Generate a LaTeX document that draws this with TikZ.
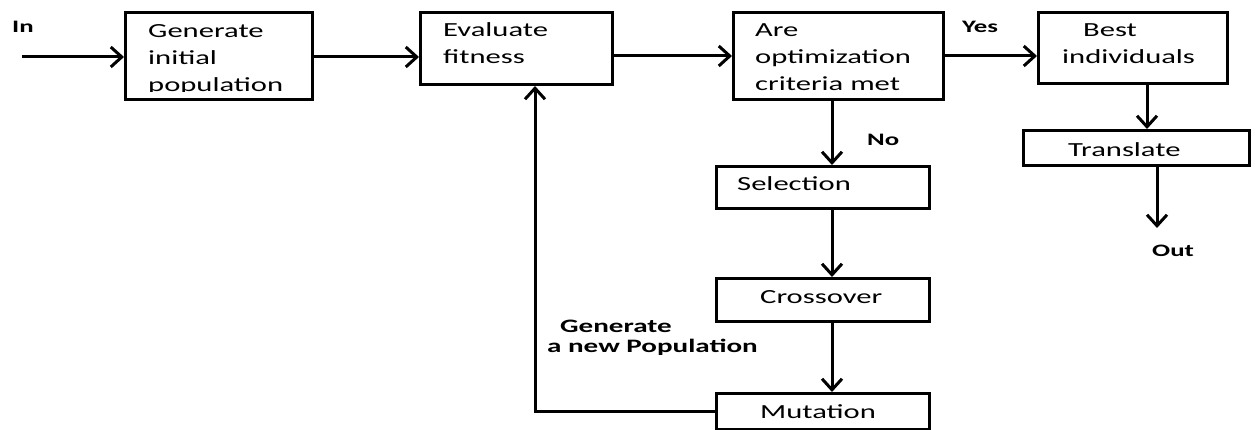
\documentclass[tikz,border=0pt]{standalone}
\usepackage{fontspec}
\setmainfont[FakeStretch=1.53]{Carlito}
\usetikzlibrary{arrows.meta}
\begin{document}
\begin{tikzpicture}[x=1pt,y=-1pt,
  box/.style={draw=black, line width=3pt, rectangle, inner sep=0pt, anchor=north west},
  txt/.style={inner sep=0pt, align=left, font=\fontsize{20}{27}\selectfont, text=black},
  lbl/.style={inner sep=0pt, font=\fontsize{17.5}{20}\selectfont\bfseries, text=black, anchor=base west},
  arr/.style={line width=3pt, -{Straight Barb[length=11pt,width=20pt,line width=3pt]}}]
\useasboundingbox (0,0) rectangle (1258,430);

% process boxes
\node[box, minimum width=187pt, minimum height=87pt] (gen)   at (124,11)  {};
\node[box, minimum width=192pt, minimum height=72pt] (eval)  at (419,11)  {};
\node[box, minimum width=210pt, minimum height=87pt] (crit)  at (732,11)  {};
\node[box, minimum width=189pt, minimum height=71pt] (best)  at (1037,11) {};
\node[box, minimum width=226pt, minimum height=35pt] (trans) at (1022,129) {};
\node[box, minimum width=213pt, minimum height=42pt] (sel)   at (715,165) {};
\node[box, minimum width=213pt, minimum height=43pt] (cross) at (715,277) {};
\node[box, minimum width=213pt, minimum height=36pt] (mut)   at (715,392) {};

% box texts
\begin{scope}
  \clip (126,13) rectangle (309,92);
  \node[txt, anchor=north west] (gent) at (148,18.1) {\strut Generate\\initial\\population};
\end{scope}
\node[txt, anchor=north west] (evalt)  at (443,17.1)  {\strut Evaluate\\fitness};
\node[txt, anchor=north west] (critt)  at (755,17.1)  {\strut Are\\optimization\\criteria met};
\node[txt, anchor=north west] (bestt)  at (1062,17.1) {\strut\hspace*{21pt}Best\\individuals};
\node[txt, anchor=base west]  (transt) at (1068,157)  {Translate};
\node[txt, anchor=base west]  (selt)   at (737,191)   {Selection};
\node[txt, anchor=base west]  (crosst) at (760,303)   {Crossover};
\node[txt, anchor=base west]  (mutt)   at (760,418)   {Mutation};

% labels
\node[lbl] (inl)  at (12,33)   {In};
\node[lbl] (yesl) at (962,33)  {Yes};
\node[lbl] (nol)  at (867,146) {No};
\node[lbl] (outl) at (1152,257) {Out};
\node[inner sep=0pt, align=left, anchor=north west,
      font=\fontsize{19}{20}\selectfont\bfseries] (newpop) at (547,318)
      {\strut\hspace*{13pt}Generate\\a new Population};

% connectors
\coordinate (inS)  at (22,57);
\coordinate (vx)   at (832,0);
\coordinate (bx)   at (1147,0);
\coordinate (outE) at (1157,228);
\coordinate (fx)   at (535,0);

\draw[arr] (inS) -- (inS -| gen.west);
\draw[arr] (gen.east |- inS) -- (eval.west |- inS);
\draw[arr] (eval.east |- crit.west) -- (crit.west);
\draw[arr] (crit.east) -- (best.west |- crit.east);
\draw[arr] (crit.south -| vx) -- (sel.north -| vx);
\draw[arr] (sel.south -| vx) -- (cross.north -| vx);
\draw[arr] (cross.south -| vx) -- (mut.north -| vx);
\draw[arr] (best.south -| bx) -- (trans.north -| bx);
\draw[arr] (trans.south -| outE) -- (outE);
\draw[arr] (mut.west) -| (eval.south -| fx);
\end{tikzpicture}
\end{document}
